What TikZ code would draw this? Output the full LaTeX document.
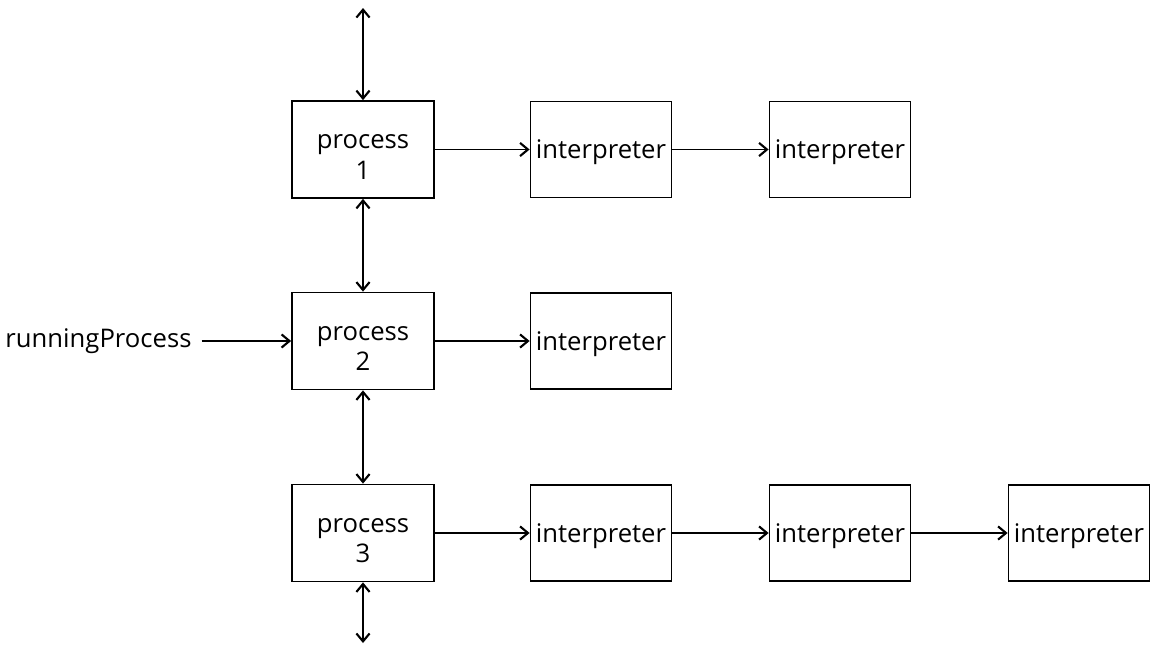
\documentclass[tikz,border=0pt]{standalone}
\usepackage{fontspec}
\setmainfont{Open Sans}
\usepackage{tikz}
\usetikzlibrary{arrows.meta,positioning,calc}

\begin{document}
\begin{tikzpicture}[
    every node/.style={font=\fontsize{14.6}{17.5}\selectfont},
    procbox/.style={draw, line width=1pt, minimum width=2.84cm, minimum height=1.94cm, align=center, inner sep=0pt, text height=34pt, text depth=0pt},
    interpbox/.style={draw, line width=1pt, minimum width=2.82cm, minimum height=1.92cm, inner sep=0pt, text depth=0pt},
    link/.style={line width=1pt, -{Straight Barb[length=4.5pt,width=7.5pt,line width=1.2pt]}},
    dlink/.style={line width=1pt, {Straight Barb[length=4.5pt,width=7.5pt,line width=1.2pt]}-{Straight Barb[length=4.5pt,width=7.5pt,line width=1.2pt]}}
]
    \useasboundingbox (0,0) rectangle (23.12,-12.9);

    % Processes
    \node[procbox] (p1) at (7.26,-2.99) {process\\1};
    \node[procbox] (p2) at (7.26,-6.82) {process\\2};
    \node[procbox] (p3) at (7.26,-10.66) {process\\3};

    % Interpreters
    \node[interpbox] (i11) at (12.02,-2.99) {interpreter};
    \node[interpbox] (i12) at (16.8,-2.99) {interpreter};
    \node[interpbox] (i21) at (12.02,-6.82) {interpreter};
    \node[interpbox] (i31) at (12.02,-10.66) {interpreter};
    \node[interpbox] (i32) at (16.8,-10.66) {interpreter};
    \node[interpbox] (i33) at (21.58,-10.66) {interpreter};

    % Entry point
    \node[anchor=east, inner sep=5.5pt] (run) at (4.03,-6.82) {runningProcess};
    \coordinate (top) at (7.26,-0.16);
    \coordinate (bot) at (7.26,-12.86);

    % Links
    \draw[dlink] (top) -- (p1.north);
    \draw[dlink] (p1.south) -- (p2.north);
    \draw[dlink] (p2.south) -- (p3.north);
    \draw[dlink] (p3.south) -- (bot);
    \draw[link] (run) -- (p2);
    \draw[link] (p1) -- (i11);
    \draw[link] (i11) -- (i12);
    \draw[link] (p2) -- (i21);
    \draw[link] (p3) -- (i31);
    \draw[link] (i31) -- (i32);
    \draw[link] (i32) -- (i33);
\end{tikzpicture}
\end{document}
